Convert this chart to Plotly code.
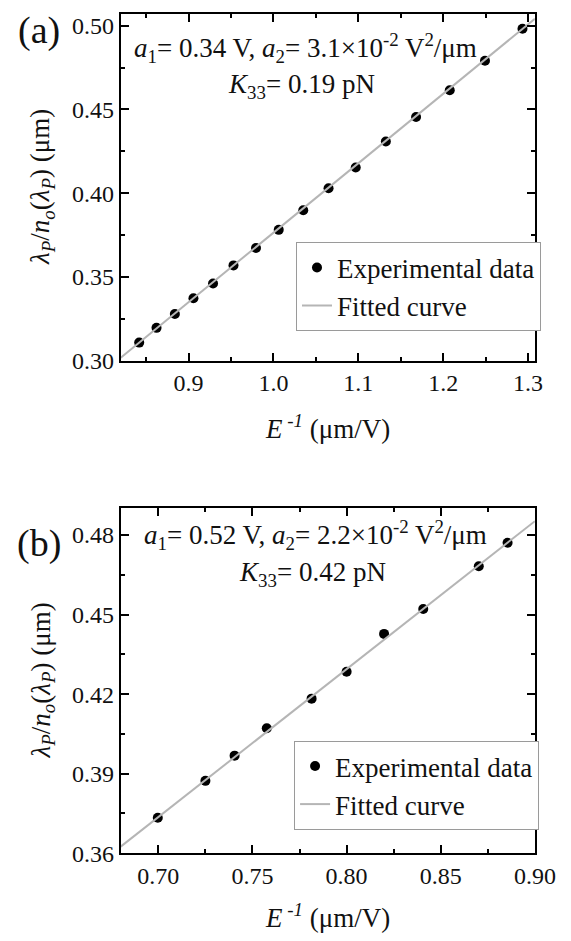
import plotly.graph_objects as go

# ---- data panel (a) ----
xa = [0.8418, 0.8622, 0.8838, 0.9057, 0.9288, 0.9529, 0.9794, 1.0062,
      1.0351, 1.0649, 1.0969, 1.1324, 1.1680, 1.2077, 1.2492, 1.2934]
ya = [0.3108, 0.3196, 0.3279, 0.3373, 0.3461, 0.3569, 0.3673, 0.3781,
      0.3898, 0.4029, 0.4153, 0.4308, 0.4455, 0.4614, 0.4791, 0.4981]
fit_xa = [0.82, 1.308]
fit_ya = [0.3018, 0.5041]

# ---- data panel (b) ----
xb = [0.6997, 0.7250, 0.7405, 0.7576, 0.7814, 0.8000, 0.8199, 0.8407, 0.8702, 0.8855]
yb = [0.3734, 0.3873, 0.3968, 0.4071, 0.4183, 0.4284, 0.4427, 0.4521, 0.4682, 0.4771]
fit_xb = [0.68, 0.90]
fit_yb = [0.3625, 0.4852]

W, H = 571, 941
FONT = "Liberation Serif"
TXT = "#111111"


def px(v):
    return v / W


def py(v):
    return 1 - v / H


fig = go.Figure()
fig.add_trace(go.Scatter(x=xa, y=ya, mode="markers", name="Experimental data",
                         marker=dict(color="black", size=10),
                         xaxis="x", yaxis="y", legend="legend"))
fig.add_trace(go.Scatter(x=fit_xa, y=fit_ya, mode="lines", name="Fitted curve",
                         line=dict(color="#b5b5b5", width=2),
                         xaxis="x", yaxis="y", legend="legend"))
fig.add_trace(go.Scatter(x=xb, y=yb, mode="markers", name="Experimental data",
                         marker=dict(color="black", size=10),
                         xaxis="x2", yaxis="y2", legend="legend2"))
fig.add_trace(go.Scatter(x=fit_xb, y=fit_yb, mode="lines", name="Fitted curve",
                         line=dict(color="#b5b5b5", width=2),
                         xaxis="x2", yaxis="y2", legend="legend2"))


def axis(**kw):
    d = dict(showline=True, linewidth=2, linecolor="black", mirror="ticks",
             ticks="inside", ticklen=8, tickwidth=1.5, tickcolor="black",
             showgrid=False, zeroline=False,
             tickfont=dict(family=FONT, size=24, color=TXT),
             minor=dict(ticks="inside", ticklen=4, tickwidth=1.5,
                        tickcolor="black", showgrid=False))
    d.update(kw)
    return d


dom_x = [117 / W, 547 / W]
xa_ax = axis(domain=dom_x, range=fit_xa, dtick=0.1, tick0=0.9, tickformat=".1f",
             anchor="y")
xa_ax["minor"]["dtick"] = 0.05
ya_ax = axis(domain=[py(357), py(5)], range=[0.30, 0.507], dtick=0.05, tick0=0.30,
             tickformat=".2f", anchor="x")
ya_ax["minor"]["dtick"] = 0.025
xb_ax = axis(domain=dom_x, range=fit_xb, dtick=0.05, tick0=0.70, tickformat=".2f",
             anchor="y2")
xb_ax["minor"]["dtick"] = 0.025
yb_ax = axis(domain=[py(857), py(507)], range=[0.36, 0.490], dtick=0.03, tick0=0.36,
             tickformat=".2f", anchor="x2")
yb_ax["minor"]["dtick"] = 0.015

leg = dict(xanchor="left", yanchor="top", bordercolor="#9a9a9a", borderwidth=1,
           bgcolor="white", font=dict(family=FONT, size=27, color=TXT),
           tracegroupgap=0, itemwidth=30)

fig.update_layout(
    width=W, height=H, margin=dict(l=0, r=0, t=0, b=0),
    paper_bgcolor="white", plot_bgcolor="white",
    xaxis=xa_ax, yaxis=ya_ax, xaxis2=xb_ax, yaxis2=yb_ax,
    legend=dict(leg, x=299 / W, y=py(237)),
    legend2=dict(leg, x=297 / W, y=py(743)),
    showlegend=True,
)

ann_font = dict(family=FONT, size=27, color=TXT)
ytitle = "<i>λ<sub>P</sub></i>/<i>n<sub>o</sub></i>(<i>λ<sub>P</sub></i>) (μm)"
xtitle = "<i>E</i><sup> -<i>1</i></sup> (μm/V)"
annotations = [
    dict(text="(a)", x=px(32), y=py(22), font=dict(family=FONT, size=38, color=TXT)),
    dict(text="(b)", x=px(32), y=py(543), font=dict(family=FONT, size=38, color=TXT)),
    dict(text="<i>a</i><sub>1</sub>= 0.34 V, <i>a</i><sub>2</sub>= 3.1×10<sup>-2</sup> V<sup>2</sup>/μm",
         x=px(309), y=py(40), font=ann_font),
    dict(text="<i>K</i><sub>33</sub>= 0.19 pN", x=px(305), y=py(78), font=ann_font),
    dict(text="<i>a</i><sub>1</sub>= 0.52 V, <i>a</i><sub>2</sub>= 2.2×10<sup>-2</sup> V<sup>2</sup>/μm",
         x=px(319), y=py(534), font=ann_font),
    dict(text="<i>K</i><sub>33</sub>= 0.42 pN", x=px(316), y=py(574), font=ann_font),
    dict(text=xtitle, x=px(332), y=py(424), font=ann_font),
    dict(text=xtitle, x=px(332), y=py(921), font=ann_font),
    dict(text=ytitle, x=px(36), y=py(181), textangle=-90, font=ann_font),
    dict(text=ytitle, x=px(36), y=py(682), textangle=-90, font=ann_font),
]
for a in annotations:
    a.update(xref="paper", yref="paper", showarrow=False,
             xanchor="center", yanchor="middle")
fig.update_layout(annotations=annotations)

fig.write_html("out.html")
